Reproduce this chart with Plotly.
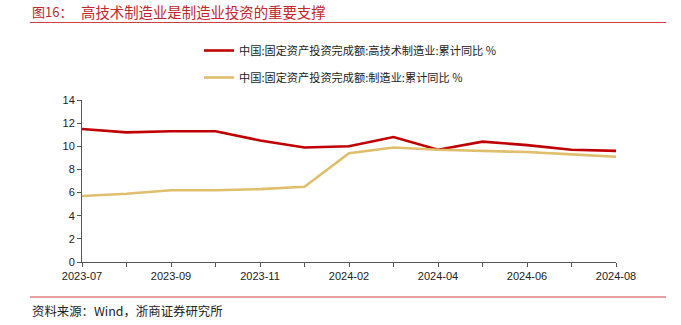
import plotly.graph_objects as go

months = ["2023-07", "2023-08", "2023-09", "2023-10", "2023-11", "2023-12",
          "2024-02", "2024-03", "2024-04", "2024-05", "2024-06", "2024-07", "2024-08"]
hitech = [11.5, 11.2, 11.3, 11.3, 10.5, 9.9, 10.0, 10.8, 9.7, 10.4, 10.1, 9.7, 9.6]
manuf = [5.7, 5.9, 6.2, 6.2, 6.3, 6.5, 9.4, 9.9, 9.7, 9.6, 9.5, 9.3, 9.1]
tick_labels = ["2023-07", "", "2023-09", "", "2023-11", "", "2024-02", "",
               "2024-04", "", "2024-06", "", "2024-08"]
name_hitech = "中国:固定资产投资完成额:高技术制造业:累计同比 %"
name_manuf = "中国:固定资产投资完成额:制造业:累计同比 %"
title_prefix = "图16："
title_text = "高技术制造业是制造业投资的重要支撑"
source_text = "资料来源：Wind，浙商证券研究所"

W, H = 681, 325
L, R, T, B = 82, 616, 100, 262

def px(x):
    return (x - L) / (R - L)

def py(y):
    return (B - y) / (B - T)

RED = "#C00000"
GOLD = "#DFBF6C"
TITLE_RED = "#C0282E"
CJK = "Noto Sans CJK SC"

fig = go.Figure()
fig.add_trace(go.Scatter(x=months, y=hitech, mode="lines", name=name_hitech,
                         line=dict(color=RED, width=2.6), legendgroup="a"))
fig.add_trace(go.Scatter(x=months, y=manuf, mode="lines", name=name_manuf,
                         line=dict(color=GOLD, width=2.6), legendgroup="b"))

fig.update_layout(
    width=W, height=H,
    margin=dict(l=L, r=W - R, t=T, b=H - B, autoexpand=False),
    paper_bgcolor="white", plot_bgcolor="white",
    showlegend=True,
    legend=dict(x=px(199), y=py(36),
                xanchor="left", yanchor="top", orientation="v",
                font=dict(family=CJK, size=11.2, color="#222"),
                tracegroupgap=8, bgcolor="rgba(0,0,0,0)"),
    xaxis=dict(type="category", range=[0, 12], tickmode="array",
               tickvals=months, ticktext=tick_labels,
               showline=True, linecolor="#555", linewidth=1,
               ticks="outside", ticklen=4, tickcolor="#555",
               showgrid=False, zeroline=False, automargin=False,
               tickfont=dict(family="Liberation Sans, Arial", size=11, color="#222")),
    yaxis=dict(range=[0, 14], tickmode="array", tickvals=[0, 2, 4, 6, 8, 10, 12, 14],
               showline=True, linecolor="#555", linewidth=1,
               ticks="outside", ticklen=4, tickcolor="#555",
               showgrid=False, zeroline=False, automargin=False,
               tickfont=dict(family="Liberation Sans, Arial", size=11, color="#222")),
)

fig.add_annotation(text=title_prefix, xref="paper", yref="paper", x=px(30), y=py(11),
                   xanchor="left", yanchor="middle", showarrow=False,
                   font=dict(family=CJK, size=13, color=TITLE_RED))
fig.add_annotation(text=title_text, xref="paper", yref="paper", x=px(79), y=py(11),
                   xanchor="left", yanchor="middle", showarrow=False,
                   font=dict(family=CJK, size=14.4, color=TITLE_RED))
fig.add_annotation(text=source_text, xref="paper", yref="paper", x=px(30), y=py(311),
                   xanchor="left", yanchor="middle", showarrow=False,
                   font=dict(family=CJK, size=12.4, color="#222"))
fig.add_shape(type="line", xref="paper", yref="paper", x0=px(30), x1=px(666),
              y0=py(22.5), y1=py(22.5), line=dict(color="#D04040", width=1))
fig.add_shape(type="line", xref="paper", yref="paper", x0=px(30), x1=px(666),
              y0=py(297), y1=py(297), line=dict(color="#D04040", width=1))

fig.write_html("out.html")
